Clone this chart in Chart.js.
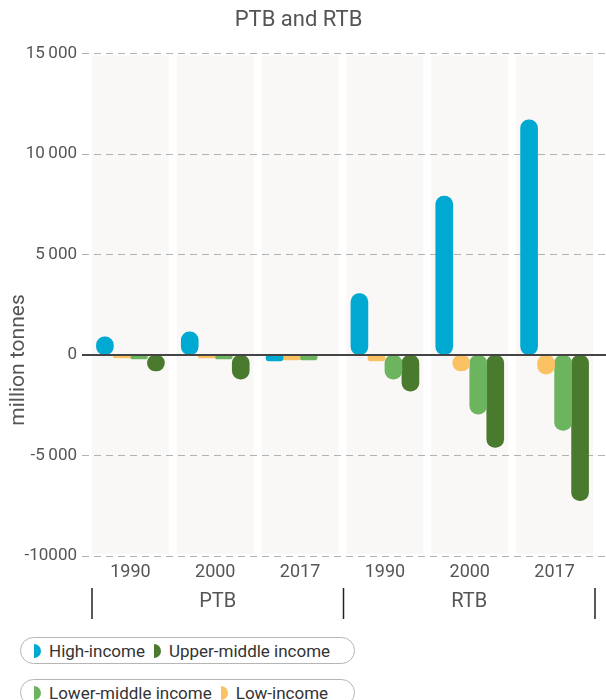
<!DOCTYPE html>
<html>
<head>
<meta charset="utf-8">
<script src="https://cdn.jsdelivr.net/npm/chart.js@4.4.1/dist/chart.umd.min.js"></script>
<style>
  html, body { margin: 0; padding: 0; background: #fff; overflow: hidden; }
  body { width: 606px; height: 700px; position: relative; font-family: Roboto, sans-serif; }
  #wrap { position: absolute; left: 0; top: 0; width: 606px; height: 625px; }
  .legend-pill {
    position: absolute; left: 20px; width: 335px; height: 27px;
    border: 1px solid #b5b5b5; border-radius: 14px; box-sizing: border-box;
    display: flex; align-items: center; padding-left: 13px;
    font-size: 17px; color: #333; white-space: nowrap;
  }
  .legend-item { display: flex; align-items: center; margin-right: 9px; }
  .legend-icon { width: 7px; height: 14px; border-radius: 0 7px 7px 0; margin-right: 8px; }
</style>
</head>
<body>
<div id="wrap"><canvas id="chart" width="606" height="625"></canvas></div>
<div id="legend"></div>

<script>
// ---- data ----
const years = ['1990', '2000', '2017', '1990', '2000', '2017'];
const groups = ['PTB', 'RTB'];
const yTicks = [15000, 10000, 5000, 0, -5000, -10000];

const seriesNames = ['High-income', 'Low-income', 'Lower-middle income', 'Upper-middle income'];
const seriesColors = ['#00a9d1', '#fbc264', '#6db45f', '#4a7a2e'];
const highIncome = [900, 1150, -300, 3050, 7900, 11700];
const lowIncome = [-150, -150, -250, -300, -800, -950];
const lowerMiddle = [-200, -200, -250, -1200, -2950, -3750];
const upperMiddle = [-800, -1200, 0, -1800, -4600, -7250];

// order used in the legend pills
const legendRows = [['High-income', 'Upper-middle income'], ['Lower-middle income', 'Low-income']];

function fmt(v) {
  const s = String(Math.abs(v));
  let out = s;
  if (Math.abs(v) >= 1000 && Math.abs(v) < 10000) out = s.slice(0, -3) + '\u2009' + s.slice(-3);
  if (Math.abs(v) >= 10000) out = v < 0 ? s : s.slice(0, -3) + '\u2009' + s.slice(-3);
  return (v < 0 ? '-' : '') + out;
}

// panels, dashed grid, zero line, group labels
const decorPlugin = {
  id: 'decor',
  beforeDatasetsDraw(chart) {
    const { ctx, chartArea, scales } = chart;
    const x = scales.x, y = scales.y;
    const band = x.width / years.length;
    ctx.save();
    ctx.fillStyle = '#f9f8f6';
    years.forEach((_, i) => {
      const c = x.getPixelForValue(i);
      ctx.fillRect(c - band / 2 + 4, chartArea.top + 2, band - 8, chartArea.bottom - chartArea.top - 4);
    });
    ctx.strokeStyle = '#b2b2b2';
    ctx.lineWidth = 1;
    ctx.setLineDash([7, 5]);
    yTicks.forEach(t => {
      if (t === 0) return;
      const py = Math.round(y.getPixelForValue(t)) + 0.5;
      ctx.beginPath();
      ctx.moveTo(82, py);
      ctx.lineTo(chart.width, py);
      ctx.stroke();
    });
    ctx.restore();
  },
  afterDatasetsDraw(chart) {
    const { ctx, scales } = chart;
    const x = scales.x, y = scales.y;
    const band = x.width / years.length;
    ctx.save();
    // zero line
    const zy = y.getPixelForValue(0);
    ctx.strokeStyle = '#444';
    ctx.lineWidth = 2;
    ctx.beginPath();
    ctx.moveTo(82, zy);
    ctx.lineTo(chart.width, zy);
    ctx.stroke();

    // y axis title
    ctx.fillStyle = '#555';
    ctx.font = '21px Roboto';
    ctx.textAlign = 'center';
    ctx.textBaseline = 'middle';
    ctx.translate(19, 360);
    ctx.rotate(-Math.PI / 2);
    ctx.fillText('million tonnes', 0, 0);
    ctx.restore();

    // group labels with separators
    ctx.save();
    ctx.strokeStyle = '#222';
    ctx.lineWidth = 1.5;
    const edges = [x.getPixelForValue(0) - band / 2 + 4, x.getPixelForValue(3) - band / 2 + 1, x.getPixelForValue(5) + band / 2 - 2];
    edges.forEach(ex => {
      ctx.beginPath();
      ctx.moveTo(ex, 588);
      ctx.lineTo(ex, 619);
      ctx.stroke();
    });
    ctx.fillStyle = '#555';
    ctx.font = '20px Roboto';
    ctx.textAlign = 'center';
    ctx.textBaseline = 'middle';
    groups.forEach((g, i) => {
      ctx.fillText(g, (edges[i] + edges[i + 1]) / 2, 602);
    });
    ctx.restore();
  }
};

function buildLegend() {
  const box = document.getElementById('legend');
  const tops = [637, 679];
  legendRows.forEach((row, r) => {
    const pill = document.createElement('div');
    pill.className = 'legend-pill';
    pill.style.top = tops[r] + 'px';
    pill.innerHTML = row.map(name => {
      const color = seriesColors[seriesNames.indexOf(name)];
      return `<span class="legend-item"><span class="legend-icon" style="background:${color}"></span>${name}</span>`;
    }).join('');
    box.appendChild(pill);
  });
}

function initChart() {
  const values = [highIncome, lowIncome, lowerMiddle, upperMiddle];
  new Chart(document.getElementById('chart'), {
    type: 'bar',
    data: {
      labels: years,
      datasets: seriesNames.map((name, i) => ({
        label: name,
        data: values[i],
        backgroundColor: seriesColors[i],
        borderRadius: 9,
        borderSkipped: false,
        barThickness: 17,
        categoryPercentage: 0.95,
        barPercentage: 0.85
      }))
    },
    options: {
      responsive: false,
      animation: false,
      layout: { padding: { right: 9, top: 0, bottom: 0 } },
      plugins: {
        legend: { display: false },
        tooltip: { enabled: false },
        title: {
          display: true,
          text: 'PTB and RTB',
          color: '#555',
          font: { family: 'Roboto', size: 22, weight: 'normal' },
          padding: { top: 7, bottom: 20 }
        }
      },
      scales: {
        x: {
          grid: { display: false },
          border: { display: false },
          ticks: { color: '#555', font: { family: 'Roboto', size: 18 }, padding: -2 },
          afterFit(scale) { scale.height = 69; }
        },
        y: {
          min: -10000,
          max: 15000,
          afterBuildTicks(scale) { scale.ticks = yTicks.map(v => ({ value: v })); },
          grid: { display: false },
          border: { display: false },
          ticks: {
            color: '#555',
            font: { family: 'Roboto', size: 17 },
            padding: 3,
            callback: v => fmt(v)
          },
          afterFit(scale) { scale.width = 88; }
        }
      }
    },
    plugins: [decorPlugin]
  });
}

buildLegend();
initChart();
</script>
</body>
</html>
